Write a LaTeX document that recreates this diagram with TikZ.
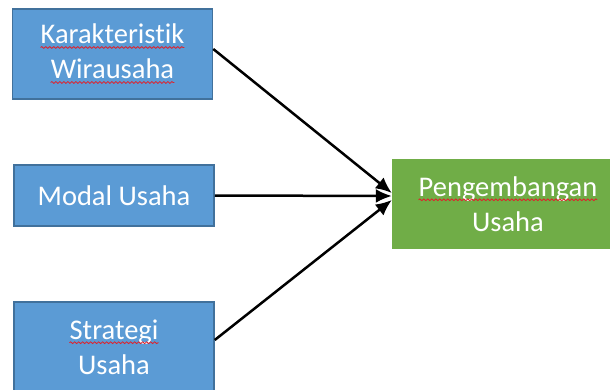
\documentclass[tikz,border=0pt]{standalone}
\usepackage{fontspec}
\setmainfont[Ligatures=NoCommon]{Carlito}
\usepackage{xcolor}
\usetikzlibrary{arrows.meta}
\usetikzlibrary{decorations.pathmorphing}
\usetikzlibrary{positioning}

\definecolor{biru}{HTML}{5B9BD5}
\definecolor{birutua}{HTML}{41719C}
\definecolor{hijau}{HTML}{70AD47}
\definecolor{merah}{HTML}{E0202A}
% kata dengan garis bergelombang merah
\newcommand{\salah}[1]{\tikz[baseline=(w.base)]{%
		\node[draw=none, fill=none, inner sep=0pt, minimum width=0pt, minimum height=0pt] (w) {#1};
		\draw[merah, line width=0.8pt, decorate, decoration={snake, amplitude=0.9pt, segment length=4pt}]
			([yshift=-3.5pt]w.base west) -- ([yshift=-3.5pt]w.base east);}}

\begin{document}
\begin{tikzpicture}[x=1pt, y=1pt, thick,
		blok/.style = {draw=birutua, line width=1.5pt, fill=biru, text=white, align=center,
			font=\fontsize{28.5}{35}\selectfont, minimum width=200pt},
		hasil/.style = {fill=hijau, text=white, align=center,
			font=\fontsize{28.5}{35}\selectfont, minimum width=232pt, minimum height=90pt},
		panah/.style = {line width=2.5pt, -{Latex[length=16pt,width=14pt]}}]
		\useasboundingbox (0,0) rectangle (610,389);
		\clip (0,0) rectangle (610,389);
		\node[blok, minimum height=90pt] (karakter) at (112.5,335) {\salah{Karakteristik}\\\salah{Wirausaha}};
		\node[blok, minimum height=61pt] (modal) at (114,193.5) {Modal Usaha};
		\node[blok, minimum height=90pt] (strategi) at (114,42) {\salah{Strategi}\\Usaha};
		\node[hasil] (pengembangan) at (508,185) {\salah{Pengembangan}\\Usaha};
		
		\draw[panah] ([yshift=5pt]karakter.east) -- ([yshift=11pt]pengembangan.west);
		\draw[panah] (modal.east) -- ([yshift=8pt]pengembangan.west);
		\draw[panah] ([yshift=7pt]strategi.east) -- ([yshift=4pt]pengembangan.west);
	\end{tikzpicture}
\end{document}
